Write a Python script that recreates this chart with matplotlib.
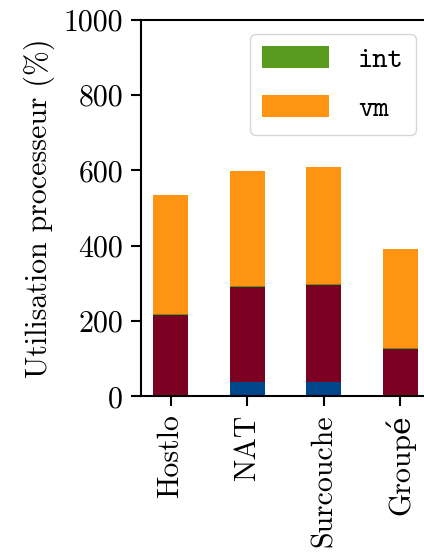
import matplotlib
matplotlib.use("Agg")
import matplotlib.pyplot as plt
import numpy as np

plt.rcParams['font.family'] = ['cmr10', 'DejaVu Serif']
plt.rcParams['mathtext.fontset'] = 'cm'
plt.rcParams['axes.unicode_minus'] = False
plt.rcParams['axes.formatter.use_mathtext'] = True

configs = ["Hostlo", "NAT", "Surcouche", "Groupé"]
part_a = [0, 39, 39, 0]          # bottom (blue)
part_b = [215, 252, 257, 126]    # dark red
part_int = [3, 2, 2, 3]          # green
part_vm = [317, 305, 311, 262]   # orange

col_a = "#00468b"
col_b = "#7b0022"
col_int = "#589b1e"
col_vm = "#ff9412"

fig = plt.figure(figsize=(4.24, 5.53), dpi=100)
ax = fig.add_axes([0.3325, 0.2832, 0.682, 0.681])

x = np.arange(len(configs))
w = 0.46
bottom = np.zeros(len(configs))
ax.bar(x, part_a, w, bottom=bottom, color=col_a, label="_a")
bottom += part_a
ax.bar(x, part_b, w, bottom=bottom, color=col_b, label="_b")
bottom += part_b
ax.bar(x, part_int, w, bottom=bottom, color=col_int, label="int")
bottom += part_int
ax.bar(x, part_vm, w, bottom=bottom, color=col_vm, label="vm")

ax.set_xlim(-0.39, 3.39)
ax.set_ylim(0, 1000)
ax.set_yticks([0, 200, 400, 600, 800, 1000])
ax.set_yticklabels(["0", "200", "400", "600", "800", "1000"])
ax.set_xticks(x)
ax.set_xticklabels(configs, rotation=90)
ax.tick_params(labelsize=21.5, width=1.5, length=7, pad=6)
ax.set_ylabel("Utilisation processeur (%)", fontsize=21.5, labelpad=6)
for s in ax.spines.values():
    s.set_linewidth(1.5)

leg = ax.legend(loc="upper right", prop={'family': 'cmtt10', 'size': 21},
                handlelength=2.3, handleheight=0.8, handletextpad=1.0,
                labelspacing=0.7, borderaxespad=0.5, fancybox=True)

fig.savefig("out.png", dpi=100)
